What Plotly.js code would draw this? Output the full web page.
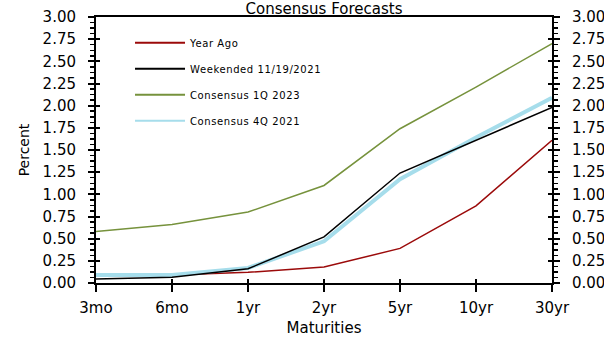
<!DOCTYPE html>
<html>
<head>
<meta charset="utf-8">
<script src="https://cdn.plot.ly/plotly-3.0.1.min.js"></script>
<style>
html,body{margin:0;padding:0;background:#fff;}
#chart{width:604px;height:337px;}
.legendtext{letter-spacing:0.6px;}
</style>
</head>
<body>
<div id="chart"></div>
<script>
const maturities = ['3mo','6mo','1yr','2yr','5yr','10yr','30yr'];
const yearAgo    = [0.08, 0.09, 0.12, 0.18, 0.39, 0.87, 1.61];
const weekended  = [0.045, 0.065, 0.16, 0.52, 1.24, 1.61, 1.98];
const cons1Q2023 = [0.58, 0.66, 0.80, 1.10, 1.74, 2.21, 2.70];
const cons4Q2021 = [0.09, 0.09, 0.17, 0.47, 1.17, 1.64, 2.09];
const seriesNames = ['Year Ago','Weekended 11/19/2021','Consensus 1Q 2023','Consensus 4Q 2021'];
const yTickVals = [0,0.25,0.5,0.75,1,1.25,1.5,1.75,2,2.25,2.5,2.75,3];
const yTickText = yTickVals.map(v => v.toFixed(2));

const FONT = 'DejaVu Sans, Arial, sans-serif';
const nulls = maturities.map(() => null);

const traces = [
  {x: maturities, y: yearAgo, name: seriesNames[0], mode: 'lines', line: {color: '#9B0A0A', width: 1.5}, legendrank: 1, legendgroup: 'a'},
  {x: maturities, y: cons4Q2021, name: seriesNames[3], mode: 'lines', line: {color: '#A6DDEB', width: 4}, legendrank: 4, legendgroup: 'd'},
  {x: maturities, y: weekended, name: seriesNames[1], mode: 'lines', line: {color: '#000000', width: 1.5}, legendrank: 2, legendgroup: 'b'},
  {x: maturities, y: cons1Q2023, name: seriesNames[2], mode: 'lines', line: {color: '#76923C', width: 1.5}, legendrank: 3, legendgroup: 'c'},
  // helper traces so overlay axes (right labels, inside ticks) are drawn
  {x: maturities, y: nulls, xaxis: 'x2', yaxis: 'y2', showlegend: false, hoverinfo: 'skip'},
  {x: maturities, y: nulls, xaxis: 'x', yaxis: 'y3', showlegend: false, hoverinfo: 'skip'},
  {x: maturities, y: nulls, xaxis: 'x', yaxis: 'y4', showlegend: false, hoverinfo: 'skip'}
];

const yBase = {range: [0, 3], tickmode: 'array', tickvals: yTickVals, ticktext: yTickText,
  showgrid: false, zeroline: false, color: '#000', tickcolor: '#000', tickwidth: 2,
  tickfont: {family: FONT, size: 15, color: '#000'}, fixedrange: true};

const layout = {
  width: 604, height: 337,
  margin: {l: 96, r: 52, t: 17, b: 54, pad: 0},
  paper_bgcolor: '#fff', plot_bgcolor: '#fff',
  font: {family: FONT, color: '#000'},
  showlegend: true,
  title: {text: 'Consensus Forecasts', font: {family: FONT, size: 15, color: '#000'},
    x: 0.5, xref: 'paper', xanchor: 'center', y: 0.975, yref: 'container', yanchor: 'middle'},
  legend: {x: 0.0746, y: 0.958, xanchor: 'left', yanchor: 'top', bgcolor: 'rgba(0,0,0,0)',
    itemwidth: 50,
    font: {family: FONT, size: 10, color: '#000'}, traceorder: 'grouped', tracegroupgap: 7},
  xaxis: {type: 'category', categoryorder: 'array', categoryarray: maturities, range: [0, 6],
    showline: true, linecolor: '#000', linewidth: 2, mirror: true,
    ticks: 'outside', ticklen: 7, tickwidth: 2, tickcolor: '#000', showgrid: false, zeroline: false,
    tickfont: {family: FONT, size: 15, color: '#000'}, ticklabelstandoff: 3,
    title: {text: 'Maturities', font: {family: FONT, size: 15, color: '#000'}, standoff: 8}},
  xaxis2: {type: 'category', categoryorder: 'array', categoryarray: maturities, range: [0, 6],
    overlaying: 'x', side: 'bottom', showline: false, ticks: 'inside', ticklen: 4, tickwidth: 2,
    tickcolor: '#000', showticklabels: false, showgrid: false, zeroline: false},
  yaxis: Object.assign({}, yBase, {side: 'left', showline: true, linecolor: '#000', linewidth: 2,
    ticks: 'outside', ticklen: 6, ticklabelstandoff: 9,
    minor: {dtick: 0.0625, ticks: 'outside', ticklen: 4, tickwidth: 1.5, tickcolor: '#000', showgrid: false},
    title: {text: 'Percent', font: {family: FONT, size: 14, color: '#000'}, standoff: 10}}),
  yaxis2: Object.assign({}, yBase, {side: 'right', overlaying: 'y', anchor: 'x2', showline: true,
    linecolor: '#000', linewidth: 2, ticks: 'outside', ticklen: 6, ticklabelstandoff: 9,
    minor: {dtick: 0.0625, ticks: 'outside', ticklen: 4, tickwidth: 1.5, tickcolor: '#000', showgrid: false}}),
  yaxis3: Object.assign({}, yBase, {side: 'left', overlaying: 'y', showline: false, ticks: 'inside',
    ticklen: 4, showticklabels: false}),
  yaxis4: Object.assign({}, yBase, {side: 'right', overlaying: 'y', showline: false, ticks: 'inside',
    ticklen: 4, showticklabels: false})
};

Plotly.newPlot('chart', traces, layout, {displayModeBar: false, staticPlot: true}).then(gd => {
  // longer, uniformly thin legend line samples as in the reference
  gd.querySelectorAll('.legend .legendlines path').forEach(p => {
    p.setAttribute('d', 'M5,0h50');
    p.style.strokeWidth = '2px';
  });
});
</script>
</body>
</html>
